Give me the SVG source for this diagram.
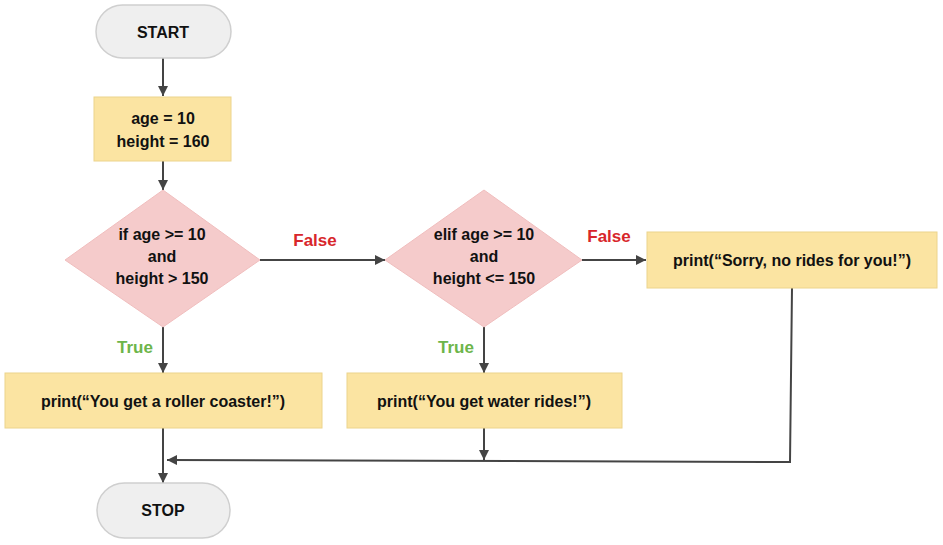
<svg xmlns="http://www.w3.org/2000/svg" width="943" height="545" viewBox="0 0 943 545">
<defs>
<marker id="arr" viewBox="0 0 10 10" refX="10" refY="5" markerWidth="10" markerHeight="10" markerUnits="userSpaceOnUse" orient="auto">
<path d="M0,0 L10,5 L0,10 z" fill="#444"/>
</marker>
<style>
.t{font-family:"Liberation Sans",Arial,sans-serif;font-weight:bold;font-size:16px;fill:#111;text-anchor:middle}
.pill{fill:#efefef;stroke:#cfcfcf;stroke-width:1.5}
.box{fill:#fbe4a2;stroke:#ecd48c;stroke-width:1}
.dia{fill:#f5cbcb;stroke:#f0bebe;stroke-width:1}
.c{fill:none;stroke:#444;stroke-width:2}
.f{font-family:"Liberation Sans",Arial,sans-serif;font-weight:bold;font-size:17px;fill:#d8262b;text-anchor:middle}
.tr{font-family:"Liberation Sans",Arial,sans-serif;font-weight:bold;font-size:17px;fill:#6db54a;text-anchor:middle}
</style>
</defs>
<rect width="943" height="545" fill="#ffffff"/>
<g id="connectors">
<line class="c" x1="163" y1="58" x2="163" y2="96" marker-end="url(#arr)"/>
<line class="c" x1="163" y1="161" x2="163" y2="190" marker-end="url(#arr)"/>
<line class="c" x1="260" y1="260" x2="385" y2="260" marker-end="url(#arr)"/>
<line class="c" x1="582" y1="260" x2="646" y2="260" marker-end="url(#arr)"/>
<line class="c" x1="163" y1="327" x2="163" y2="373" marker-end="url(#arr)"/>
<line class="c" x1="484" y1="327" x2="484" y2="373" marker-end="url(#arr)"/>
<line class="c" x1="163" y1="428" x2="163" y2="483" marker-end="url(#arr)"/>
<line class="c" x1="484" y1="428" x2="484" y2="460" marker-end="url(#arr)"/>
<polyline class="c" points="792,288 790,462 167,460" marker-end="url(#arr)"/>
<text class="f" x="315" y="246">False</text>
<text class="f" x="609" y="242">False</text>
<text class="tr" x="135" y="353">True</text>
<text class="tr" x="456" y="353">True</text>
</g>
<g id="start">
<rect class="pill" x="96" y="5" width="135" height="53" rx="26.5"/>
<text class="t" x="163" y="38">START</text>
</g>
<g id="init">
<rect class="box" x="94" y="97" width="137" height="64"/>
<text class="t" x="163" y="124">age = 10</text>
<text class="t" x="163" y="147">height = 160</text>
</g>
<g id="cond1">
<polygon class="dia" points="163,190 260,260 163,327 65,260"/>
<text class="t" x="162" y="240">if age &gt;= 10</text>
<text class="t" x="162" y="262">and</text>
<text class="t" x="162" y="284">height &gt; 150</text>
</g>
<g id="cond2">
<polygon class="dia" points="484,190 582,260 484,327 385,260"/>
<text class="t" x="484" y="240">elif age &gt;= 10</text>
<text class="t" x="484" y="262">and</text>
<text class="t" x="484" y="284">height &lt;= 150</text>
</g>
<g id="sorry">
<rect class="box" x="647" y="232" width="290" height="56"/>
<text class="t" x="792" y="266">print(“Sorry, no rides for you!”)</text>
</g>
<g id="coaster">
<rect class="box" x="5" y="373" width="317" height="55"/>
<text class="t" x="163" y="407">print(“You get a roller coaster!”)</text>
</g>
<g id="water">
<rect class="box" x="347" y="373" width="275" height="55"/>
<text class="t" x="484" y="407">print(“You get water rides!”)</text>
</g>
<g id="stop">
<rect class="pill" x="97" y="483" width="133" height="55" rx="27.5"/>
<text class="t" x="163" y="516">STOP</text>
</g>
</svg>
